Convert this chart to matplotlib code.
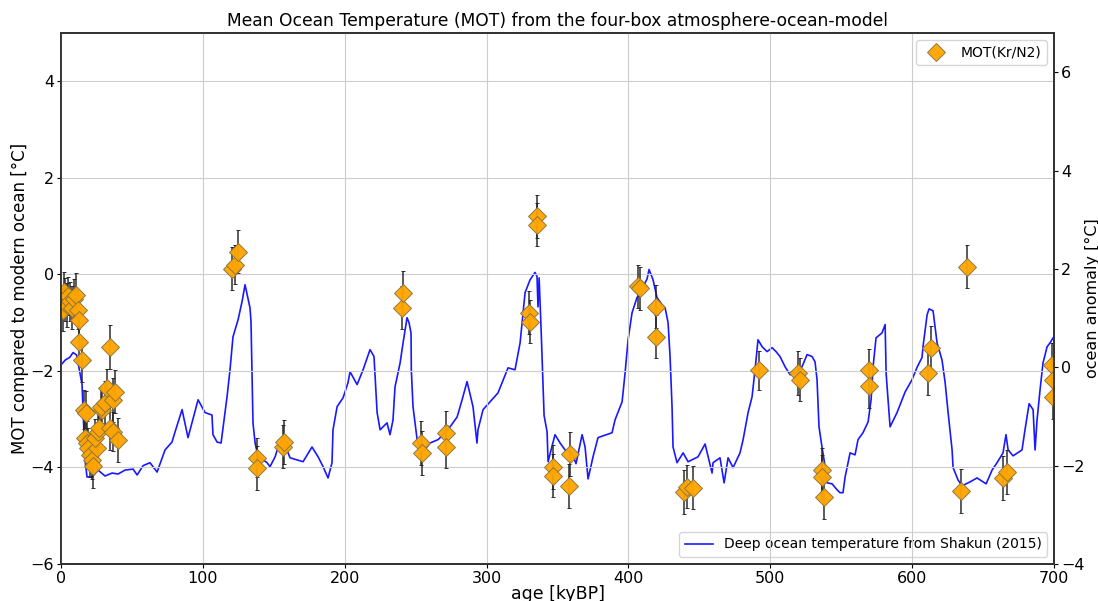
import matplotlib
matplotlib.use('Agg')
import matplotlib.pyplot as plt
import numpy as np

# deep ocean temperature (Shakun 2015), right axis
deep_age = [0, 3, 6, 8.5, 11, 14.8, 16.9, 18.3, 21.9, 26.1, 31.0, 36.0, 40.2, 45.1, 50.8,
            53.6, 57.8, 62.7, 67.7, 73.3, 78.2, 80.4, 85.3, 89.5, 96.6, 101.5, 106.4, 107.1,
            110.0, 112.8, 117.0, 119.1, 121.2, 124.8, 127.6, 129.7, 133.2, 133.9, 134.6,
            135.3, 136.8, 138.9, 142.4, 145.2, 147.3, 150.9, 153.0, 157.9, 161.4, 170.6,
            176.9, 181.2, 184.7, 188.2, 191.0, 191.7, 194.6, 198.8, 202.3, 203.7, 208.7,
            212.9, 217.8, 220.6, 222.8, 224.9, 229.8, 231.9, 234.0, 235.4, 239.0, 241.1,
            243.9, 245.3, 246.7, 246.9, 248.1, 251.0, 254.5, 260.1, 265.8, 270.7, 274.2,
            279.2, 282.7, 286.2, 290.4, 293.2, 293.9, 297.5, 302.4, 308.0, 315.1, 320.0,
            323.6, 327.1, 330.6, 334.1, 335.5, 336.2, 337.0, 338.4, 340.5, 342.6, 343.3,
            348.2, 351.8, 355.3, 360.2, 363.0, 367.3, 369.4, 371.5, 375.0, 378.5, 388.4,
            390.5, 395.5, 397.6, 399.7, 402.5, 406.0, 408.2, 410.3, 413.1, 414.5, 417.3,
            420.1, 423.7, 425.8, 427.9, 429.3, 430.7, 431.4, 434.2, 438.5, 442.0, 449.0,
            454.0, 458.9, 459.6, 464.5, 467.4, 470.2, 473.7, 478.6, 480.8, 484.3, 487.1,
            489.2, 491.3, 494.2, 497.7, 501.2, 504.0, 506.8, 510.4, 513.9, 517.4, 522.3,
            525.9, 529.4, 531.5, 532.9, 534.3, 536.4, 538.6, 540.0, 543.5, 547.0, 549.1,
            551.2, 552.7, 556.2, 559.7, 561.8, 565.3, 568.9, 571.0, 572.4, 574.5, 578.7,
            580.9, 581.6, 582.3, 584.4, 589.3, 595.0, 599.9, 603.4, 606.9, 607.6, 610.5,
            611.9, 614.7, 616.1, 617.5, 621.0, 623.2, 625.3, 628.1, 628.8, 632.3, 635.1,
            640.8, 645.7, 647.8, 652.1, 656.3, 659.8, 664.0, 666.1, 667.6, 671.1, 677.4,
            679.5, 682.4, 685.2, 686.6, 688.0, 690.1, 692.2, 695.1, 697.2, 699.3]
deep_temp = [0.05, 0.15, 0.2, 0.3, 0.25, -0.35, -1.88, -2.23, -2.23, -2.09, -2.21, -2.15,
             -2.17, -2.09, -2.07, -2.19, -2.00, -1.94, -2.13, -1.68, -1.52, -1.31, -0.86,
             -1.43, -0.66, -0.92, -0.97, -1.37, -1.52, -1.54, -0.60, -0.05, 0.62, 0.97, 1.34,
             1.68, 1.21, 0.93, -0.11, -1.13, -1.54, -1.82, -1.88, -1.94, -2.02, -1.82, -1.62,
             -1.58, -1.84, -1.92, -1.62, -1.82, -2.02, -2.25, -1.94, -1.27, -0.80, -0.62,
             -0.31, -0.09, -0.35, -0.05, 0.36, 0.22, -0.92, -1.27, -1.13, -1.37, -1.07, -0.40,
             0.09, 0.50, 1.01, 0.91, 0.70, -0.05, -0.80, -1.47, -1.74, -1.54, -1.47, -1.33,
             -1.21, -1.01, -0.66, -0.29, -0.80, -1.54, -1.27, -0.86, -0.70, -0.52, -0.01,
             -0.05, 0.50, 1.52, 1.78, 1.93, 1.85, 1.23, 1.82, 0.77, -0.98, -1.31, -1.92,
             -1.37, -1.54, -1.68, -1.74, -1.96, -1.37, -1.62, -2.27, -1.82, -1.43, -1.33,
             -1.07, -0.70, -0.11, 0.56, 1.11, 1.42, 1.48, 1.64, 1.80, 1.99, 1.78, 1.42, 1.27,
             1.21, 0.91, 0.22, -0.80, -1.62, -1.94, -1.74, -1.92, -1.82, -1.56, -2.15, -1.94,
             -1.84, -2.35, -1.84, -2.04, -1.74, -1.47, -0.92, -0.60, -0.05, 0.56, 0.42, 0.32,
             0.40, 0.32, 0.22, 0.01, -0.15, -0.11, 0.01, 0.26, 0.22, 0.11, -0.25, -1.21,
             -1.62, -2.02, -2.35, -2.37, -2.49, -2.55, -2.55, -2.23, -1.74, -1.78, -1.47,
             -1.33, -1.11, -0.66, 0.01, 0.60, 0.70, 0.87, -0.11, -0.40, -1.21, -0.92, -0.50,
             -0.25, 0.0, 0.20, 0.42, 1.07, 1.19, 1.15, 0.83, 0.50, 0.15, -0.31, -0.92, -1.68,
             -2.04, -2.29, -2.41, -2.33, -2.25, -2.29, -2.37, -2.09, -1.94, -1.74, -1.37,
             -1.68, -1.80, -1.68, -1.27, -0.74, -0.86, -1.68, -1.07, -0.46, 0.09, 0.42, 0.50,
             0.60]

# MOT from Kr/N2, left axis
mot_age = [1.4, 2.1, 2.8, 4.2, 5.0, 6.3, 7.8, 9.0, 10.6, 12.0, 13.0, 12.7, 14.8, 16.5, 17.5,
           17.0, 18.0, 19.0, 20.4, 22.0, 22.3, 25.4, 24.0, 26.1, 26.8, 29.0, 28.5, 30.7,
           32.4, 34.5, 34.5, 36.6, 36.6, 38.1, 40.2,
           120.5, 122.7, 124.8, 138.2, 138.2, 156.5, 157.2, 240.4, 241.1, 253.8, 254.5,
           271.4, 271.4, 329.9, 330.6, 335.5, 335.5, 346.8, 346.8, 358.1, 358.8, 406.7,
           408.1, 419.4, 419.4, 439.2, 441.3, 445.5, 492.0, 519.5, 520.9, 536.4, 536.4,
           537.8, 569.6, 569.6, 611.2, 613.3, 634.4, 638.7, 664.0, 666.8, 698.5, 699.0,
           699.5]
mot = [-0.73, -0.36, -0.52, -0.63, -0.45, -0.56, -0.69, -0.5, -0.42, -0.73, -0.94, -1.41,
       -1.77, -2.8, -2.87, -3.39, -3.49, -3.59, -3.74, -3.84, -3.97, -3.59, -3.39, -3.26,
       -3.18, -2.80, -2.74, -2.66, -2.35, -1.50, -3.18, -3.26, -2.60, -2.43, -3.43,
       0.12, 0.20, 0.47, -3.80, -4.01, -3.57, -3.47, -0.69, -0.38, -3.49, -3.70,
       -3.28, -3.57, -0.79, -0.98, 1.20, 1.03, -3.99, -4.17, -4.38, -3.72, -0.25,
       -0.29, -0.67, -1.29, -4.51, -4.40, -4.42, -1.99, -2.04, -2.18, -4.05, -4.20,
       -4.61, -1.99, -2.31, -2.04, -1.52, -4.49, 0.16, -4.22, -4.09, -1.87, -2.18,
       -2.54]
mot_err = [0.45, 0.4, 0.45, 0.45, 0.4, 0.4, 0.45, 0.4, 0.45, 0.4, 0.4, 0.4, 0.45, 0.4, 0.45,
           0.4, 0.45, 0.4, 0.45, 0.4, 0.45, 0.45, 0.4, 0.45, 0.4, 0.45, 0.4, 0.45, 0.4,
           0.45, 0.45, 0.4, 0.45, 0.45, 0.45,
           0.45, 0.4, 0.45, 0.4, 0.45, 0.45, 0.45, 0.45, 0.45, 0.45, 0.45, 0.45, 0.45,
           0.45, 0.45, 0.45, 0.45, 0.45, 0.45, 0.45, 0.45, 0.45, 0.45, 0.45, 0.45, 0.45,
           0.45, 0.45, 0.4, 0.45, 0.45, 0.45, 0.45, 0.45, 0.45, 0.45, 0.45, 0.45, 0.45,
           0.45, 0.45, 0.45, 0.45, 0.45, 0.45]

plt.rcParams['font.family'] = 'DejaVu Sans'
fig = plt.figure(figsize=(10.98, 6.01), dpi=100)
ax = fig.add_axes([0.0556, 0.0616, 0.9044, 0.8834])
ax2 = ax.twinx()

# diamonds above the blue line
ax.set_zorder(ax2.get_zorder() + 1)
ax.patch.set_visible(False)

eb = ax.errorbar(mot_age, mot, yerr=mot_err, fmt='D', color='orange', markersize=9,
                 markeredgecolor='#8a7440', markeredgewidth=0.7, ecolor='#222222',
                 elinewidth=1.1, capsize=1.5, alpha=0.95, label='MOT(Kr/N2)')
ax2.plot(deep_age, deep_temp, color='blue', lw=1.2, alpha=0.9,
         label='Deep ocean temperature from Shakun (2015)')

ax.set_xlim(0, 700)
ax.set_ylim(-6, 5)
ax2.set_ylim(-4, 6.8)
ax.set_yticks([-6, -4, -2, 0, 2, 4])
ax2.set_yticks([-4, -2, 0, 2, 4, 6])

ax.grid(True, color='#cccccc', lw=0.8)
ax.set_axisbelow(True)

for a in (ax, ax2):
    a.tick_params(labelsize=11.5, length=3, pad=2)
    for s in a.spines.values():
        s.set_color('#333333')
        s.set_linewidth(1.3)

ax.set_xlabel('age [kyBP]', fontsize=12.5, labelpad=-1)
ax.set_ylabel('MOT compared to modern ocean [°C]', fontsize=12, labelpad=1)
ax2.set_ylabel('ocean anomaly [°C]', fontsize=11.5, labelpad=0)
ax.set_title('Mean Ocean Temperature (MOT) from the four-box atmosphere-ocean-model',
             fontsize=12.3, pad=5)

ax.legend(handles=[eb[0]], labels=['MOT(Kr/N2)'], loc='upper right', fontsize=10)
ax2.legend(loc='lower right', fontsize=10)

fig.savefig('out.png', dpi=100)
